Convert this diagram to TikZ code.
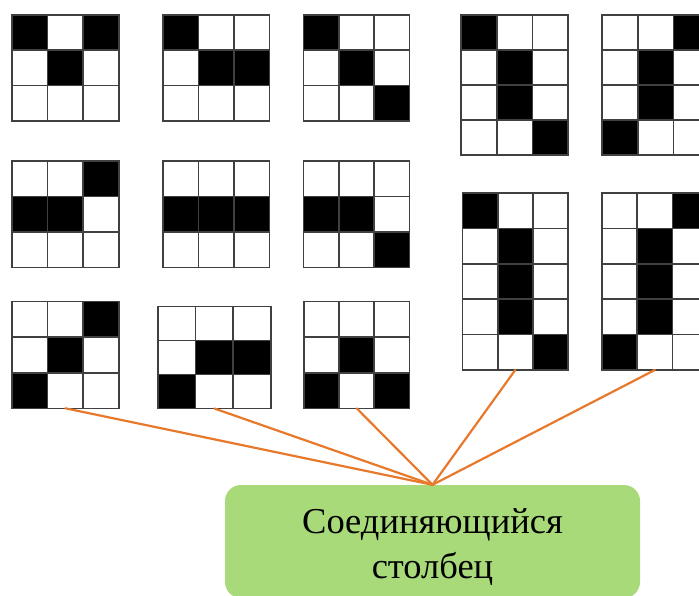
\documentclass[tikz,border=0pt]{standalone}
\usepackage{fontspec}
\setmainfont{Liberation Serif}
\definecolor{gridgray}{HTML}{404040}
\definecolor{linkorange}{HTML}{E8782A}
\definecolor{boxgreen}{HTML}{A9DA7A}
\tikzset{
  gridline/.style={draw=gridgray, line width=1.6pt, line cap=rect},
  cellfill/.style={fill=black},
  gridframe/.style={inner sep=0pt, outer sep=0pt, anchor=north west},
  link/.style={draw=linkorange, line width=2.2pt, line cap=round},
  greenbox/.style={fill=boxgreen, rounded corners=16pt, inner sep=0pt,
    minimum width=415pt, minimum height=113pt},
  caption/.style={align=center, inner sep=0pt, font=\fontsize{36.5}{45}\selectfont}
}
% \pixgrid{name}{x0}{y0}{cell w}{cell h}{cols}{rows}{black cells c/r}
\newcommand\pixgrid[8]{%
  \node[gridframe, minimum width={#6*#4 pt}, minimum height={#7*#5 pt}] (#1) at (#2,#3) {};
  \foreach \c/\r in {#8} \fill[cellfill] ({#2+\c*#4},{#3+\r*#5}) rectangle ++(#4,#5);
  \foreach \i in {0,...,#6} \draw[gridline] ({#2+\i*#4},#3) -- ++(0,{#7*#5});
  \foreach \j in {0,...,#7} \draw[gridline] (#2,{#3+\j*#5}) -- ++({#6*#4},0);
}
\begin{document}
\begin{tikzpicture}[x=1pt,y=-1pt]
\useasboundingbox (0,0) rectangle (699,596);
\clip (0,0) rectangle (699,596);
% top row of 3x3 patterns
\pixgrid{ga}{12}{15}{35.6}{35.3}{3}{3}{0/0,2/0,1/1}
\pixgrid{gb}{163}{15}{35.5}{35.3}{3}{3}{0/0,1/1,2/1}
\pixgrid{gc}{303.5}{15}{35.3}{35.3}{3}{3}{0/0,1/1,2/2}
% 4x3 patterns
\pixgrid{gd}{461}{15}{35.7}{35}{3}{4}{0/0,1/1,1/2,2/3}
\pixgrid{ge}{602}{15}{35.7}{35}{3}{4}{2/0,1/1,1/2,0/3}
% middle row
\pixgrid{gf}{12}{161}{35.6}{35.5}{3}{3}{2/0,0/1,1/1}
\pixgrid{gg}{163}{161}{35.5}{35.5}{3}{3}{0/1,1/1,2/1}
\pixgrid{gh}{303.5}{161}{35.3}{35.5}{3}{3}{0/1,1/1,2/2}
% 5x3 patterns
\pixgrid{gi}{462.5}{193}{35.2}{35.4}{3}{5}{0/0,1/1,1/2,1/3,2/4}
\pixgrid{gj}{602}{193}{35.2}{35.4}{3}{5}{2/0,1/1,1/2,1/3,0/4}
% bottom row
\pixgrid{gk}{12}{301.5}{35.6}{35.6}{3}{3}{2/0,1/1,0/2}
\pixgrid{gl}{158}{306.5}{37.6}{34}{3}{3}{1/1,2/1,0/2}
\pixgrid{gm}{304}{301.5}{35.1}{35.6}{3}{3}{1/1,0/2,2/2}
% target box
\node[greenbox] (box) at (432.5,541.5) {};
\node[caption] (label) at (432.5,547) {Соединяющийся\\столбец};
% connectors
\foreach \g in {gk,gl,gm,gi,gj} \draw[link] (\g.south) -- (box.north);
\end{tikzpicture}
\end{document}
